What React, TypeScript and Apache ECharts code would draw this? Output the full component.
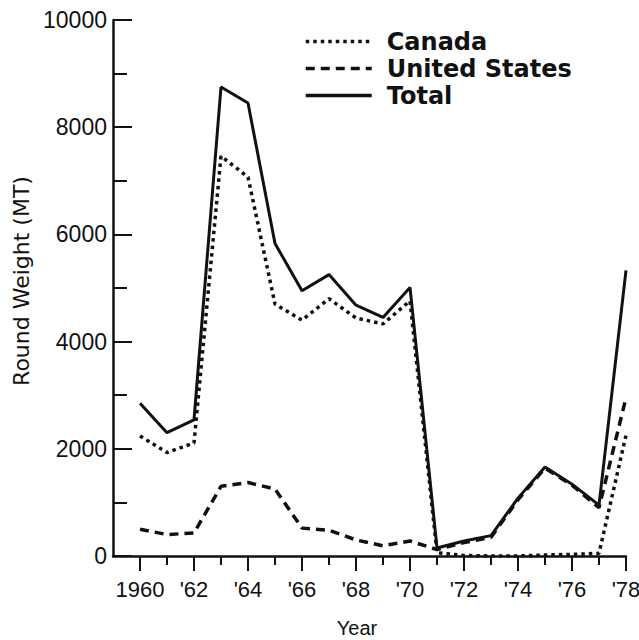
import React, { useEffect, useRef } from "react";
import * as echarts from "echarts";

const years = [1960, 1961, 1962, 1963, 1964, 1965, 1966, 1967, 1968, 1969, 1970, 1971, 1972, 1973, 1974, 1975, 1976, 1977, 1978];
const canada = [2240, 1930, 2110, 7460, 7070, 4700, 4400, 4800, 4440, 4330, 4760, 60, 10, 0, 0, 20, 30, 50, 2250];
const unitedStates = [500, 400, 430, 1300, 1370, 1250, 520, 480, 300, 190, 280, 120, 250, 350, 1050, 1640, 1320, 900, 2950];
const total = [2850, 2300, 2540, 8750, 8450, 5830, 4950, 5250, 4680, 4450, 5010, 150, 280, 380, 1080, 1660, 1340, 950, 5330];

const evenYears = [1960, 1962, 1964, 1966, 1968, 1970, 1972, 1974, 1976, 1978];
const oddYears = [1961, 1963, 1965, 1967, 1969, 1971, 1973, 1975, 1977];
const seriesNames = ["Canada", "United States", "Total"];

const INK = "#111";
const FONT = "'Liberation Sans', Arial, sans-serif";

export default function App() {
  const ref = useRef<HTMLDivElement>(null);
  useEffect(() => {
    document.body.style.margin = "0";
    const chart = echarts.init(ref.current!, null, { renderer: "svg" });
    const pair = (vals: number[]) => years.map((y, i) => [y, vals[i]]);
    chart.setOption({
      animation: false,
      backgroundColor: "#fff",
      grid: { left: 113, right: 13, top: 20, bottom: 84, outerBoundsMode: "none" },
      legend: {
        orient: "vertical",
        left: 299,
        top: 23,
        itemWidth: 66,
        itemHeight: 14,
        itemGap: 0,
        data: seriesNames,
        itemStyle: { opacity: 0 },
        lineStyle: { width: 3.5 },
        textStyle: { fontFamily: "'DejaVu Sans', sans-serif", fontWeight: "bold", fontSize: 24, color: INK, lineHeight: 27, padding: [0, 0, 0, 10] },
      },
      xAxis: [
        {
          type: "value",
          min: 1959,
          max: 1978,
          interval: 1,
          name: "Year",
          nameLocation: "middle",
          nameGap: 62,
          nameTextStyle: { fontFamily: FONT, fontSize: 20, color: INK, padding: [0, 25, 0, 0] },
          axisLine: { show: true, onZero: false, lineStyle: { color: INK, width: 2.5 } },
          axisTick: { show: true, customValues: oddYears, length: 9, lineStyle: { color: INK, width: 2 } },
          axisLabel: {
            customValues: evenYears,
            margin: 22,
            fontFamily: FONT,
            fontSize: 22,
            color: INK,
            formatter: (v: number) => (v === 1960 ? "1960" : "'" + String(v).slice(2)),
          },
          splitLine: { show: false },
        },
        {
          type: "value",
          min: 1959,
          max: 1978,
          interval: 1,
          position: "bottom",
          axisLine: { show: false, onZero: false },
          axisTick: { show: true, customValues: evenYears, length: 15, lineStyle: { color: INK, width: 2 } },
          axisLabel: { show: false },
          splitLine: { show: false },
        },
      ],
      yAxis: {
        type: "value",
        min: 0,
        max: 10000,
        interval: 2000,
        name: "Round Weight (MT)",
        nameLocation: "middle",
        nameGap: 72,
        nameTextStyle: { fontFamily: "'DejaVu Sans', sans-serif", fontSize: 22, color: INK, padding: [0, 0, 0, 14] },
        axisLine: { show: true, lineStyle: { color: INK, width: 2.5 } },
        axisTick: { show: true, inside: true, length: 19, lineStyle: { color: INK, width: 2 } },
        minorTick: { show: true, splitNumber: 2, length: 14, lineStyle: { color: INK, width: 2 } },
        axisLabel: { margin: 6, fontFamily: FONT, fontSize: 23, color: INK, formatter: (v: number) => String(v) },
        splitLine: { show: false },
        minorSplitLine: { show: false },
      },
      series: [
        {
          name: "Canada",
          type: "line",
          data: pair(canada),
          symbol: "none",
          lineStyle: { color: INK, width: 3.5, type: [3.5, 4] },
          itemStyle: { color: INK },
        },
        {
          name: "United States",
          type: "line",
          data: pair(unitedStates),
          symbol: "none",
          lineStyle: { color: INK, width: 3.5, type: [9, 6] },
          itemStyle: { color: INK },
        },
        {
          name: "Total",
          type: "line",
          data: pair(total),
          symbol: "none",
          lineStyle: { color: INK, width: 3, type: "solid" },
          itemStyle: { color: INK },
        },
      ],
    });
    return () => chart.dispose();
  }, []);
  return <div ref={ref} style={{ width: 639, height: 640, display: "block" }} />;
}
